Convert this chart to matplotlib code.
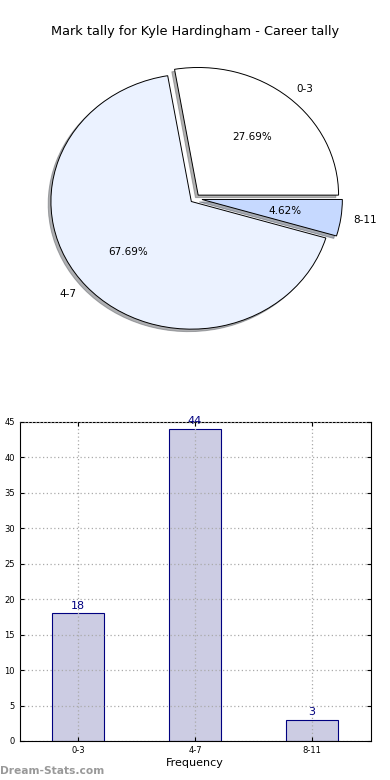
import matplotlib
matplotlib.use("Agg")
import matplotlib.pyplot as plt
import numpy as np

categories = ["0-3", "4-7", "8-11"]
counts = [18, 44, 3]
pie_colors = ["#FFFFFF", "#EBF2FF", "#C6D9FF"]
explode = [0.035, 0.035, 0.05]
title = "Mark tally for Kyle Hardingham - Career tally"
yticks = list(range(0, 50, 5))

fig = plt.figure(figsize=(3.9, 7.8), dpi=100)
fig.subplots_adjust(left=0.05, right=0.95, bottom=0.05, top=0.95, hspace=0.2)

ax1 = fig.add_subplot(2, 1, 1)
wedges, texts, autotexts = ax1.pie(
    counts, labels=categories, colors=pie_colors, explode=explode,
    autopct="%1.2f%%", shadow=dict(ox=-0.014, oy=-0.014, shade=0.6),
    startangle=0,
    wedgeprops=dict(edgecolor="black", linewidth=0.7),
    textprops=dict(fontsize=7.5), labeldistance=1.09, pctdistance=0.6)
ax1.set_aspect("auto")
ax1.set_xlim(-1.25, 1.25)
ax1.set_ylim(-1.25, 1.25)
ax1.set_title(title, fontsize=9.3, pad=3)

ax2 = fig.add_subplot(2, 1, 2)
x = np.arange(len(categories))
bars = ax2.bar(x, counts, width=0.45, color="#CCCCE3", edgecolor="#000080",
               linewidth=0.8, zorder=1)
for xi, c in zip(x, counts):
    ax2.text(xi, c + 0.4, str(c), ha="center", va="bottom", color="#000080",
             fontsize=8)
ax2.set_xlim(-0.5, 2.5)
ax2.set_ylim(0, 45)
ax2.set_yticks(yticks)
ax2.set_xticks(x)
ax2.set_xticklabels(categories)
ax2.tick_params(labelsize=6, direction="in", top=True, right=True, length=3)
ax2.grid(True, linestyle=(0, (1, 2)), color="#AAAAAA", linewidth=0.9, zorder=3)
ax2.set_axisbelow(False)
ax2.set_xlabel("Frequency", fontsize=8, labelpad=2)

fig.text(0.0, 0.005, "Dream-Stats.com", color="#999999", fontsize=7.7,
         fontweight="bold", ha="left", va="bottom")

fig.savefig("out.png", dpi=100)
